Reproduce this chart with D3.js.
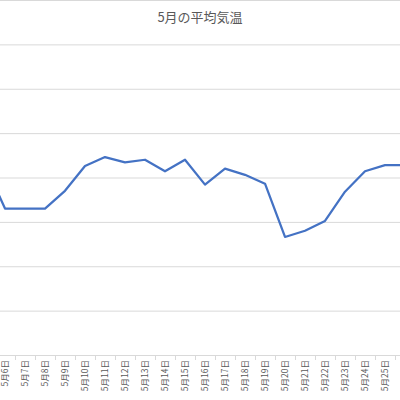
<!DOCTYPE html>
<html><head><meta charset="utf-8">
<script src="https://cdn.jsdelivr.net/npm/d3@7"></script>
<style>body{margin:0;background:#fff}svg{display:block}</style>
</head><body>
<svg id="chart" width="400" height="400"></svg>
<script>
// 5月の日ごとの平均気温
var days = ['5月5日','5月6日','5月7日','5月8日','5月9日','5月10日','5月11日','5月12日','5月13日','5月14日','5月15日','5月16日','5月17日','5月18日','5月19日','5月20日','5月21日','5月22日','5月23日','5月24日','5月25日','5月26日'];
var temps = [21.5,16.5,16.5,16.5,18.5,21.3,22.3,21.7,22.0,20.7,22.0,19.2,21.0,20.3,19.3,13.3,14.0,15.1,18.4,20.7,21.4,21.4];
var yTicks = [0,5,10,15,20,25,30,35,40];

var svg = d3.select('#chart');
var plotBottom = 355;

var x = d3.scaleBand().domain(days).range([-25, 415]);
var y = d3.scaleLinear().domain([0, 40]).range([plotBottom, 0]);

// gridlines
svg.append('g').selectAll('line').data(yTicks.slice(1)).enter().append('line')
  .attr('x1', 0).attr('x2', 400)
  .attr('y1', (d) => y(d) + 0.5).attr('y2', (d) => y(d) + 0.5)
  .attr('stroke', '#d9d9d9').attr('stroke-width', 1);

// x axis
var xAxis = d3.axisBottom(x).tickSize(0).tickPadding(0);
var gx = svg.append('g').attr('transform', `translate(0, ${plotBottom})`).call(xAxis);
gx.select('.domain').attr('stroke', '#d9d9d9');
gx.selectAll('text')
  .attr('transform', 'rotate(-90)')
  .attr('text-anchor', 'end')
  .attr('x', -5).attr('y', 0).attr('dy', '0.35em')
  .attr('fill', '#595959')
  .style('font-size', '8.5px')
  .style('font-family', '"Noto Sans CJK JP", sans-serif');
// tick marks between categories
svg.append('g').selectAll('line').data(days).enter().append('line')
  .attr('x1', (d) => x(d) + 0.5).attr('x2', (d) => x(d) + 0.5)
  .attr('y1', plotBottom).attr('y2', plotBottom + 5)
  .attr('stroke', '#d9d9d9');

// line
var line = d3.line()
  .x((d, i) => x(days[i]) + x.bandwidth() / 2)
  .y((d) => y(d));
svg.append('path').datum(temps)
  .attr('d', line)
  .attr('fill', 'none')
  .attr('stroke', '#4472c4')
  .attr('stroke-width', 2.25)
  .attr('stroke-linejoin', 'round');

// title
svg.append('text')
  .attr('x', 200).attr('y', 22)
  .attr('text-anchor', 'middle')
  .attr('fill', '#595959')
  .style('font-size', '13px')
  .style('font-family', '"Noto Sans CJK JP", sans-serif')
  .text('5月の平均気温');
</script>
</body></html>
